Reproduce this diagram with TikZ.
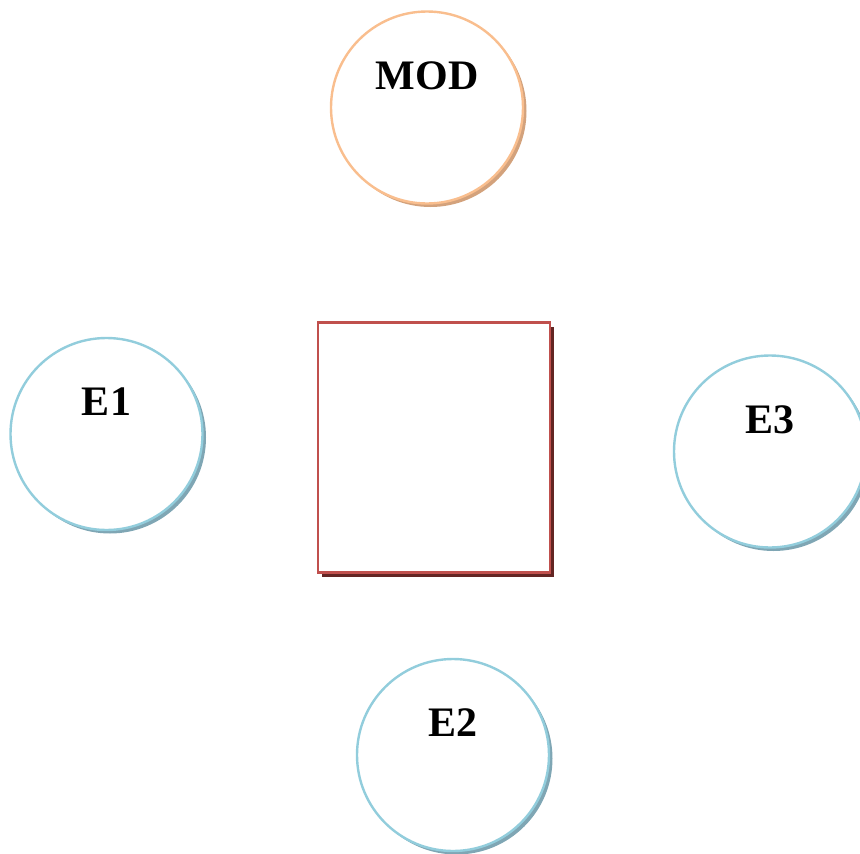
\documentclass[tikz,border=0pt]{standalone}
\usepackage{fontspec}
\setmainfont{Liberation Serif}
\usetikzlibrary{shadows}

\definecolor{modline}{HTML}{F9BE8E}
\definecolor{modshade}{HTML}{D3A27C}
\definecolor{eline}{HTML}{92CDDC}
\definecolor{eshade}{HTML}{7FA6B4}
\definecolor{boxline}{HTML}{C0504D}
\definecolor{boxshade}{HTML}{632523}

\begin{document}
\begin{tikzpicture}[x=1pt,y=-1pt]
\tikzset{ring/.style = {shape=circle,draw,line width=2.4pt,fill=white,minimum size=192pt,inner sep=0pt}}
\tikzset{mod ring/.style = {ring,draw=modline,drop shadow={shadow xshift=3.5pt,shadow yshift=-3.5pt,fill=modshade,opacity=1}}}
\tikzset{e ring/.style = {ring,draw=eline,drop shadow={shadow xshift=3.5pt,shadow yshift=-3.5pt,fill=eshade,opacity=1}}}
\tikzset{box/.style = {shape=rectangle,draw=boxline,line width=2.4pt,fill=white,minimum width=232pt,minimum height=250pt,drop shadow={shadow xshift=4pt,shadow yshift=-4pt,fill=boxshade,opacity=1}}}
\tikzset{tag/.style = {font=\fontsize{42}{50}\selectfont\bfseries,inner sep=0pt}}
\useasboundingbox (0,0) rectangle (860,854);
% shapes

\node[box] (core) at (434,447.5) {};
\node[mod ring] (mod) at (427,107.5) {};
\node[e ring] (e1) at (106.5,434) {};
\node[e ring] (e2) at (453,755) {};
\node[e ring] (e3) at (770,451.5) {};

% labels
\node[tag] (modtag) at ([yshift=32pt]mod.center) {MOD};
\node[tag] (e1tag) at ([yshift=32pt]e1.center) {E1};
\node[tag] (e2tag) at ([yshift=32pt]e2.center) {E2};
\node[tag] (e3tag) at ([yshift=32pt]e3.center) {E3};

\end{tikzpicture}
\end{document}
